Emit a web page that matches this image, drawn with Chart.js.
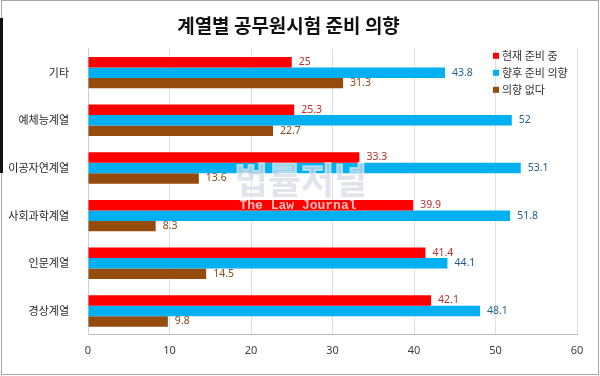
<!DOCTYPE html>
<html>
<head>
<meta charset="utf-8">
<script src="https://cdn.jsdelivr.net/npm/chart.js@4.4.1/dist/chart.umd.min.js"></script>
<style>
body{margin:0;background:#fff}
#wrap{position:relative;width:600px;height:376px}
#frame{position:absolute;left:1px;top:0;width:596px;height:373px;border:1px solid #a6a6a6;pointer-events:none}
#edge{position:absolute;left:0;top:18px;width:3px;height:155px;background:#111}
</style>
</head>
<body>
<div id="wrap">
<canvas id="chart" width="600" height="376"></canvas>
<div id="frame"></div><div id="edge"></div>
</div>
<script>
// 계열별 공무원시험 준비 의향 (%)
var categories = ['기타', '예체능계열', '이공자연계열', '사회과학계열', '인문계열', '경상계열'];
var seriesNames = ['현재 준비 중', '향후 준비 의향', '의향 없다'];
var nowPreparing = [25, 25.3, 33.3, 39.9, 41.4, 42.1];
var willPrepare = [43.8, 52, 53.1, 51.8, 44.1, 48.1];
var noIntention = [31.3, 22.7, 13.6, 8.3, 14.5, 9.8];
var xTicks = [0, 10, 20, 30, 40, 50, 60];

var barColors = ['#ff0000', '#00b0f0', '#964b0e'];
var labelColors = ['#b9302c', '#1f5f8b', '#8a4a14'];
var KR = '"Noto Sans CJK KR", "Noto Sans", sans-serif';

// value labels at the end of each bar
var valueLabels = {
  id: 'valueLabels',
  afterDatasetsDraw: function(chart) {
    var ctx = chart.ctx;
    ctx.save();
    ctx.font = '10.5px "Noto Sans", sans-serif';
    ctx.textBaseline = 'middle';
    ctx.textAlign = 'left';
    chart.data.datasets.forEach(function(ds, i) {
      ctx.fillStyle = labelColors[i];
      chart.getDatasetMeta(i).data.forEach(function(bar, j) {
        ctx.fillText(String(ds.data[j]), bar.x + 7, bar.y);
      });
    });
    ctx.restore();
  }
};

// legend drawn inside the plot, top right
var innerLegend = {
  id: 'innerLegend',
  afterDraw: function(chart) {
    var ctx = chart.ctx, a = chart.chartArea;
    ctx.save();
    ctx.font = '11px ' + KR;
    ctx.textBaseline = 'middle';
    chart.data.datasets.forEach(function(ds, i) {
      var y = a.top + 7 + i * 17;
      ctx.fillStyle = ds.backgroundColor;
      ctx.fillRect(a.right - 84, y - 3, 6, 6);
      ctx.fillStyle = '#333';
      ctx.fillText(ds.label, a.right - 75, y);
    });
    ctx.restore();
  }
};

// faint watermark over the bars
var watermark = {
  id: 'watermark',
  afterDraw: function(chart) {
    var ctx = chart.ctx;
    ctx.save();
    ctx.textAlign = 'center';
    ctx.textBaseline = 'middle';
    ctx.font = 'bold 36px ' + KR;
    ctx.lineWidth = 2;
    ctx.strokeStyle = 'rgba(255,255,255,0.6)';
    ctx.strokeText('법률저널', 301, 180);
    ctx.fillStyle = 'rgba(212,218,226,0.7)';
    ctx.fillText('법률저널', 301, 180);
    ctx.fillStyle = 'rgba(240,235,235,0.8)';
    ctx.font = 'bold 13px "Liberation Mono", monospace';
    ctx.fillText('The Law Journal', 298, 206);
    ctx.restore();
  }
};

new Chart(document.getElementById('chart'), {
  type: 'bar',
  data: {
    labels: categories,
    datasets: [
      { label: seriesNames[0], data: nowPreparing, backgroundColor: barColors[0] },
      { label: seriesNames[1], data: willPrepare, backgroundColor: barColors[1] },
      { label: seriesNames[2], data: noIntention, backgroundColor: barColors[2] }
    ]
  },
  options: {
    indexAxis: 'y',
    responsive: false,
    animation: false,
    devicePixelRatio: 1,
    layout: { padding: { left: 0, right: 23, top: 0, bottom: 10 } },
    datasets: { bar: { categoryPercentage: 0.66, barPercentage: 1 } },
    scales: {
      x: {
        min: 0, max: 60,
        afterBuildTicks: function(s) { s.ticks = xTicks.map(function(v) { return { value: v }; }); },
        grid: { color: '#d8e0ea', drawTicks: false },
        border: { display: true, color: '#bfbfbf' },
        ticks: { padding: 9, color: '#404040', font: { size: 11, family: '"Noto Sans", sans-serif' } }
      },
      y: {
        afterFit: function(s) { s.width = 88; },
        grid: { display: false },
        border: { display: true, color: '#c8d0da' },
        ticks: { padding: 11, color: '#262626', font: { size: 11, family: KR } }
      }
    },
    plugins: {
      legend: { display: false },
      tooltip: { enabled: false },
      title: {
        display: true,
        text: '계열별 공무원시험 준비 의향',
        color: '#111',
        font: { size: 19, weight: 'bold', family: KR },
        padding: { top: 14, bottom: 12 }
      }
    }
  },
  plugins: [valueLabels, innerLegend, watermark]
});
</script>
</body>
</html>
